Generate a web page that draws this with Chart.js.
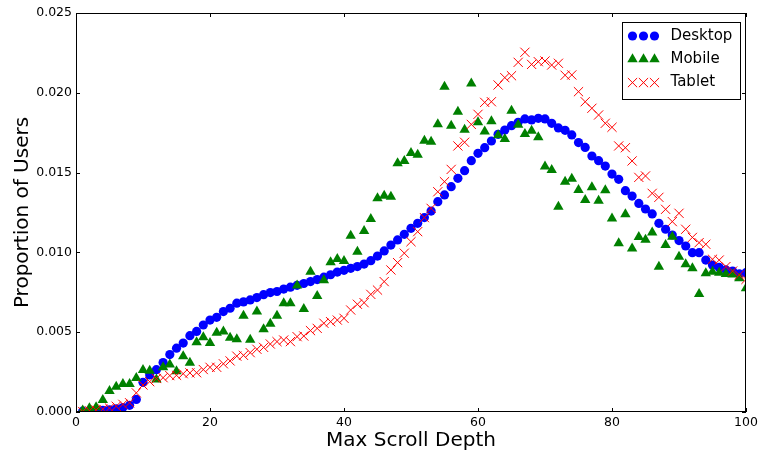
<!DOCTYPE html>
<html>
<head>
<meta charset="utf-8">
<script src="https://cdn.jsdelivr.net/npm/chart.js@4.4.1/dist/chart.umd.min.js"></script>
<style>
  html, body { margin: 0; padding: 0; background: #fff; }
  #wrap { width: 761px; height: 455px; }
</style>
</head>
<body>
<div id="wrap"><canvas id="scrollChart" width="761" height="455"></canvas></div>
<script>
// max scroll depth buckets (percent of page)
const depth = [
  1, 2, 3, 4, 5, 6, 7, 8, 9, 10, 11, 12, 13, 14, 15, 16, 17, 18, 19, 20,
  21, 22, 23, 24, 25, 26, 27, 28, 29, 30, 31, 32, 33, 34, 35, 36, 37, 38, 39, 40,
  41, 42, 43, 44, 45, 46, 47, 48, 49, 50, 51, 52, 53, 54, 55, 56, 57, 58, 59, 60,
  61, 62, 63, 64, 65, 66, 67, 68, 69, 70, 71, 72, 73, 74, 75, 76, 77, 78, 79, 80,
  81, 82, 83, 84, 85, 86, 87, 88, 89, 90, 91, 92, 93, 94, 95, 96, 97, 98, 99, 100
];

const desktop = [
  0.00005, 0.00006, 0.00007, 0.00010, 0.00014, 0.00020, 0.00028, 0.00042, 0.00079, 0.00186,
  0.00232, 0.00265, 0.00310, 0.00360, 0.00400, 0.00432, 0.00478, 0.00505, 0.00545, 0.00576,
  0.00593, 0.00629, 0.00650, 0.00682, 0.00690, 0.00702, 0.00717, 0.00735, 0.00748, 0.00755,
  0.00770, 0.00782, 0.00794, 0.00805, 0.00817, 0.00830, 0.00845, 0.00860, 0.00877, 0.00888,
  0.00900, 0.00911, 0.00927, 0.00948, 0.00977, 0.01009, 0.01046, 0.01078, 0.01113, 0.01151,
  0.01182, 0.01218, 0.01259, 0.01318, 0.01360, 0.01412, 0.01464, 0.01512, 0.01575, 0.01621,
  0.01656, 0.01698, 0.01740, 0.01767, 0.01794, 0.01815, 0.01836, 0.01830, 0.01840, 0.01836,
  0.01809, 0.01780, 0.01765, 0.01736, 0.01688, 0.01658, 0.01604, 0.01575, 0.01541, 0.01491,
  0.01458, 0.01387, 0.01353, 0.01307, 0.01272, 0.01241, 0.01182, 0.01145, 0.01109, 0.01074,
  0.01040, 0.00998, 0.00998, 0.00952, 0.00921, 0.00906, 0.00890, 0.00883, 0.00865, 0.00873
];

const mobile = [
  0.00010, 0.00023, 0.00029, 0.00075, 0.00132, 0.00158, 0.00175, 0.00175, 0.00213, 0.00263,
  0.00258, 0.00203, 0.00281, 0.00298, 0.00256, 0.00349, 0.00308, 0.00437, 0.00468, 0.00432,
  0.00497, 0.00505, 0.00466, 0.00456, 0.00603, 0.00453, 0.00630, 0.00518, 0.00553, 0.00603,
  0.00681, 0.00681, 0.00792, 0.00645, 0.00879, 0.00727, 0.00825, 0.00938, 0.00959, 0.00946,
  0.01105, 0.01004, 0.01134, 0.01209, 0.01339, 0.01355, 0.01349, 0.01558, 0.01573, 0.01623,
  0.01612, 0.01699, 0.01694, 0.01803, 0.02038, 0.01794, 0.01882, 0.01769, 0.02059, 0.01815,
  0.01758, 0.01821, 0.01734, 0.01710, 0.01888, 0.01800, 0.01742, 0.01763, 0.01721, 0.01538,
  0.01516, 0.01286, 0.01443, 0.01461, 0.01391, 0.01328, 0.01408, 0.01324, 0.01390, 0.01213,
  0.01057, 0.01239, 0.01025, 0.01097, 0.01080, 0.01124, 0.00910, 0.01046, 0.01098, 0.00973,
  0.00926, 0.00900, 0.00739, 0.00869, 0.00879, 0.00873, 0.00864, 0.00862, 0.00838, 0.00775
];

const tablet = [
  0.00003, 0.00008, 0.00013, 0.00018, 0.00025, 0.00036, 0.00048, 0.00058, 0.00120, 0.00169,
  0.00190, 0.00210, 0.00215, 0.00228, 0.00230, 0.00240, 0.00245, 0.00246, 0.00266, 0.00280,
  0.00280, 0.00302, 0.00320, 0.00350, 0.00355, 0.00372, 0.00393, 0.00405, 0.00426, 0.00441,
  0.00451, 0.00441, 0.00472, 0.00476, 0.00510, 0.00524, 0.00556, 0.00566, 0.00576, 0.00587,
  0.00639, 0.00675, 0.00685, 0.00737, 0.00764, 0.00817, 0.00890, 0.00936, 0.00995, 0.01067,
  0.01130, 0.01218, 0.01276, 0.01380, 0.01443, 0.01520, 0.01667, 0.01690, 0.01802, 0.01865,
  0.01940, 0.01944, 0.02049, 0.02095, 0.02107, 0.02191, 0.02254, 0.02178, 0.02195, 0.02199,
  0.02174, 0.02185, 0.02110, 0.02112, 0.02007, 0.01944, 0.01903, 0.01861, 0.01809, 0.01784,
  0.01667, 0.01656, 0.01573, 0.01470, 0.01479, 0.01370, 0.01345, 0.01270, 0.01193, 0.01245,
  0.01145, 0.01094, 0.01061, 0.01051, 0.00957, 0.00952, 0.00911, 0.00883, 0.00858, 0.00831
];

const xTicks = [0, 20, 40, 60, 80, 100];
const yTicks = [0.000, 0.005, 0.010, 0.015, 0.020, 0.025];

const FONT = 'DejaVu Sans';

function toPoints(values) {
  return values.map((v, i) => ({ x: depth[i], y: v }));
}

// black frame round the plot with short inward ticks on every side
const frameTicks = {
  id: 'frameTicks',
  afterDatasetsDraw(chart) {
    const { ctx, chartArea: a, scales } = chart;
    const len = 4;
    ctx.save();
    ctx.strokeStyle = '#000';
    ctx.lineWidth = 1;
    ctx.beginPath();
    xTicks.forEach(v => {
      const px = Math.round(scales.x.getPixelForValue(v)) + 0.5;
      ctx.moveTo(px, a.bottom); ctx.lineTo(px, a.bottom - len);
      ctx.moveTo(px, a.top); ctx.lineTo(px, a.top + len);
    });
    yTicks.forEach(v => {
      const py = Math.round(scales.y.getPixelForValue(v)) + 0.5;
      ctx.moveTo(a.left, py); ctx.lineTo(a.left + len, py);
      ctx.moveTo(a.right, py); ctx.lineTo(a.right - len, py);
    });
    ctx.stroke();
    ctx.strokeRect(a.left + 0.5, a.top + 0.5, a.right - a.left - 1, a.bottom - a.top - 1);
    ctx.restore();
  }
};

// legend with three markers per entry, boxed in the upper right
const tripleLegend = {
  id: 'tripleLegend',
  afterDraw(chart) {
    const { ctx, chartArea: a } = chart;
    const w = 118, h = 77;
    const left = Math.round(a.right - 6 - w) + 0.5;
    const top = Math.round(a.top + 9) + 0.5;
    ctx.save();
    ctx.fillStyle = '#fff';
    ctx.fillRect(left, top, w, h);
    ctx.strokeStyle = '#000';
    ctx.lineWidth = 1;
    ctx.strokeRect(left, top, w, h);
    chart.data.datasets.forEach((ds, i) => {
      const cy = top + 13.5 + i * 23.3;
      [10, 21, 32].forEach(dx => {
        ctx.fillStyle = ds.backgroundColor;
        ctx.strokeStyle = ds.borderColor;
        ctx.lineWidth = ds.pointBorderWidth;
        Chart.helpers.drawPoint(ctx, {
          pointStyle: ds.pointStyle,
          radius: ds.pointRadius,
          rotation: 0,
          borderWidth: ds.pointBorderWidth
        }, left + dx, cy);
      });
      ctx.fillStyle = '#000';
      ctx.font = '15px "' + FONT + '"';
      ctx.textBaseline = 'middle';
      ctx.textAlign = 'left';
      ctx.fillText(ds.label, left + 48, cy);
    });
    ctx.restore();
  }
};

const ctx = document.getElementById('scrollChart').getContext('2d');

new Chart(ctx, {
  type: 'scatter',
  data: {
    datasets: [
      {
        label: 'Desktop',
        data: toPoints(desktop),
        pointStyle: 'circle',
        pointRadius: 4.6,
        pointBorderWidth: 0,
        backgroundColor: '#0000ff',
        borderColor: '#0000ff',
        order: 3,
        clip: 0
      },
      {
        label: 'Mobile',
        data: toPoints(mobile),
        pointStyle: 'triangle',
        pointRadius: 6,
        pointBorderWidth: 0,
        backgroundColor: '#008000',
        borderColor: '#008000',
        order: 2,
        clip: 0
      },
      {
        label: 'Tablet',
        data: toPoints(tablet),
        pointStyle: 'crossRot',
        pointRadius: 6.5,
        pointBorderWidth: 1,
        backgroundColor: '#ff0000',
        borderColor: '#ff0000',
        order: 1,
        clip: 0
      }
    ]
  },
  options: {
    responsive: false,
    devicePixelRatio: 1,
    animation: false,
    events: [],
    layout: { padding: { left: 0, right: 15, top: 13, bottom: 0 } },
    plugins: {
      legend: { display: false },
      tooltip: { enabled: false }
    },
    scales: {
      x: {
        type: 'linear',
        min: 0,
        max: 100,
        afterFit: s => { s.height = 43; },
        afterBuildTicks: s => { s.ticks = xTicks.map(v => ({ value: v })); },
        grid: { display: false, drawTicks: false },
        border: { display: false },
        ticks: {
          padding: 3,
          color: '#000',
          font: { family: FONT, size: 12.5 },
          callback: v => String(v)
        },
        title: {
          display: true,
          text: 'Max Scroll Depth',
          color: '#000',
          font: { family: FONT, size: 20 },
          padding: { top: 0, bottom: 2 }
        }
      },
      y: {
        type: 'linear',
        min: 0,
        max: 0.025,
        afterFit: s => { s.width = 76; },
        afterBuildTicks: s => { s.ticks = yTicks.map(v => ({ value: v })); },
        grid: { display: false, drawTicks: false },
        border: { display: false },
        ticks: {
          padding: 4,
          color: '#000',
          font: { family: FONT, size: 12.5 },
          callback: v => Number(v).toFixed(3)
        },
        title: {
          display: true,
          text: 'Proportion of Users',
          color: '#000',
          font: { family: FONT, size: 20 },
          padding: { top: 11, bottom: 0 }
        }
      }
    }
  },
  plugins: [frameTicks, tripleLegend]
});
</script>
</body>
</html>
